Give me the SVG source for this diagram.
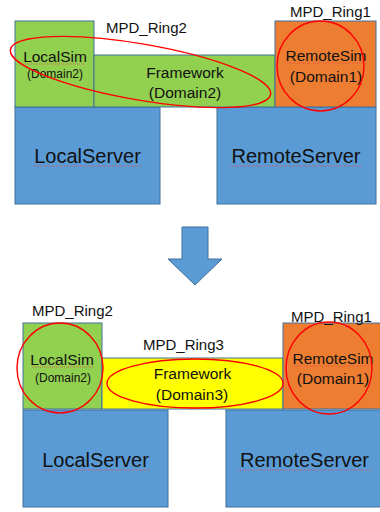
<svg xmlns="http://www.w3.org/2000/svg" width="380" height="512" viewBox="0 0 380 512">
<style>
.box{stroke:#41719c;stroke-width:1}
.g{fill:#92d050}.o{fill:#ed7d31}.b{fill:#5b9bd5}.y{fill:#ffff00}
.ring{fill:none;stroke:#ff0000;stroke-width:1.4}
text{font-family:"Liberation Sans",Arial,sans-serif;fill:#111;text-anchor:middle}
.lbl{font-size:15px;text-anchor:start}
.t15{font-size:15.5px}.t12{font-size:12px}.t20{font-size:20px}
.sp{stroke:#e05050;stroke-width:0.8;stroke-dasharray:1 1;fill:none}
</style>
<rect width="380" height="512" fill="#ffffff"/>

<!-- Top scene -->
<g id="top-localserver"><rect class="box b" x="15" y="107" width="145" height="97"/><text class="t20" x="87.5" y="163">LocalServer</text><line class="sp" x1="34" y1="166" x2="141" y2="166"/></g>
<g id="top-remoteserver"><rect class="box b" x="217" y="107" width="159" height="97"/><text class="t20" x="296" y="163">RemoteServer</text><line class="sp" x1="230" y1="166" x2="362" y2="166"/></g>
<g id="top-localsim"><rect class="box g" x="15" y="21" width="79" height="86"/><text class="t15" x="55" y="62">LocalSim</text><line class="sp" x1="25" y1="64" x2="85" y2="64"/><text class="t12" x="55" y="78">(Domain2)</text></g>
<g id="top-framework"><rect class="box g" x="94" y="55" width="181" height="52"/><text class="t15" x="185" y="78">Framework</text><text class="t15" x="185" y="98">(Domain2)</text></g>
<g id="top-remotesim"><rect class="box o" x="275" y="21" width="101" height="86"/><text class="t15" x="326" y="61">RemoteSim</text><line class="sp" x1="287" y1="63" x2="365" y2="63"/><text class="t15" x="326" y="82">(Domain1)</text></g>
<g id="top-rings">
<ellipse class="ring" cx="140.5" cy="72" rx="132" ry="28" transform="rotate(9.8 140.5 72)"/>
<ellipse class="ring" cx="320.5" cy="66" rx="43.5" ry="45"/>
<text class="lbl" x="106" y="33">MPD_Ring2</text>
<text class="lbl" x="290" y="17">MPD_Ring1</text>
</g>

<!-- Arrow -->
<g id="arrow"><path d="M182 227 H208 V259 H222 L195 285 L168 259 H182 Z" fill="#5b9bd5" stroke="#41719c" stroke-width="1"/></g>

<!-- Bottom scene -->
<g id="bot-localserver"><rect class="box b" x="23" y="410" width="145" height="97"/><text class="t20" x="95.5" y="467">LocalServer</text><line class="sp" x1="42" y1="470" x2="149" y2="470"/></g>
<g id="bot-remoteserver"><rect class="box b" x="226" y="410" width="160" height="97"/><text class="t20" x="304.5" y="467">RemoteServer</text><line class="sp" x1="238" y1="470" x2="371" y2="470"/></g>
<g id="bot-localsim"><rect class="box g" x="23" y="323" width="79" height="86"/><text class="t15" x="62" y="365">LocalSim</text><line class="sp" x1="32" y1="367" x2="93" y2="367"/><text class="t12" x="63" y="382">(Domain2)</text></g>
<g id="bot-framework"><rect class="box y" x="102" y="358" width="181" height="51"/><text class="t15" x="192.5" y="379">Framework</text><text class="t15" x="192" y="400">(Domain3)</text></g>
<g id="bot-remotesim"><rect class="box o" x="283" y="323" width="100" height="86"/><text class="t15" x="333" y="364">RemoteSim</text><line class="sp" x1="294" y1="366" x2="372" y2="366"/><text class="t15" x="333" y="384">(Domain1)</text></g>
<g id="bot-rings">
<ellipse class="ring" cx="60" cy="368" rx="43" ry="45"/>
<ellipse class="ring" cx="195" cy="383.5" rx="88" ry="24.5"/>
<ellipse class="ring" cx="329" cy="368" rx="43" ry="46"/>
<text class="lbl" x="32" y="316">MPD_Ring2</text>
<text class="lbl" x="143" y="350">MPD_Ring3</text>
<text class="lbl" x="291" y="322">MPD_Ring1</text>
</g>
</svg>
